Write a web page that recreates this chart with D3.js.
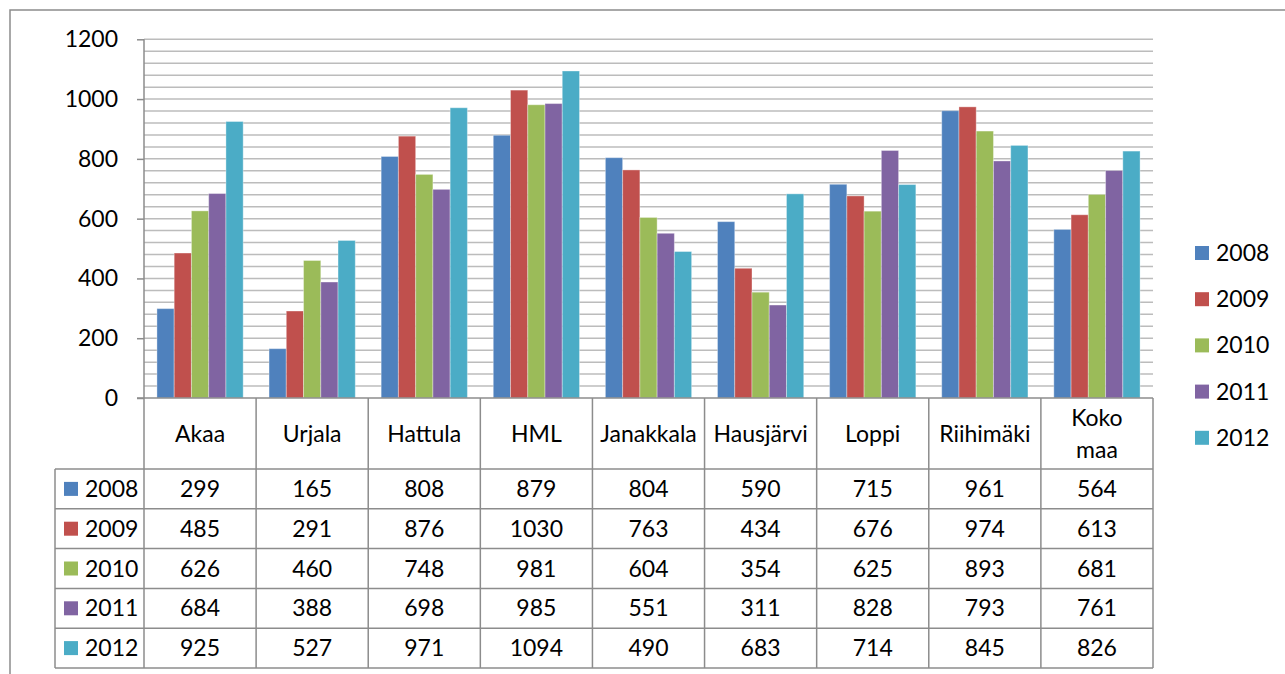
<!DOCTYPE html>
<html>
<head>
<meta charset="utf-8">
<script src="https://cdn.jsdelivr.net/npm/d3@7"></script>
<style>
  body { margin: 0; background: #fff; }
  svg text { font-family: Lato, "Open Sans", sans-serif; fill: #000; }
</style>
</head>
<body>
<div id="chart"></div>
<script>
// data
var categories = ['Akaa', 'Urjala', 'Hattula', 'HML', 'Janakkala', 'Hausjärvi', 'Loppi', 'Riihimäki', 'Koko maa'];
var years = ['2008', '2009', '2010', '2011', '2012'];
var v2008 = [299, 165, 808, 879, 804, 590, 715, 961, 564];
var v2009 = [485, 291, 876, 1030, 763, 434, 676, 974, 613];
var v2010 = [626, 460, 748, 981, 604, 354, 625, 893, 681];
var v2011 = [684, 388, 698, 985, 551, 311, 828, 793, 761];
var v2012 = [925, 527, 971, 1094, 490, 683, 714, 845, 826];
var yTicks = [0, 200, 400, 600, 800, 1000, 1200];

var series = [v2008, v2009, v2010, v2011, v2012];
var colors = ['#4F81BD', '#C0504D', '#9BBB59', '#8064A2', '#4BACC6'];

var W = 1285, H = 674;
var plot = {left: 144, right: 1153, top: 39.3, bottom: 398};
var rowH = 39.8, tableTop = 469, legCol = 55;
var lineCol = '#8c8c8c';
var fs = 23;

var svg = d3.select('#chart').append('svg')
  .attr('width', W).attr('height', H);

// outer frame (only top and left visible)
svg.append('path')
  .attr('d', 'M10,674 V10 H1285')
  .attr('fill', 'none').attr('stroke', lineCol).attr('stroke-width', 1.5);

var x = d3.scaleBand()
  .domain(categories)
  .range([plot.left, plot.right]);

var x1 = d3.scaleBand()
  .domain(years)
  .range([0, x.bandwidth()])
  .paddingInner(0)
  .paddingOuter(0.75);

var y = d3.scaleLinear()
  .domain([0, 1200])
  .range([plot.bottom, plot.top]);

// gridlines every 40
svg.append('g')
  .selectAll('line')
  .data(d3.range(40, 1201, 40))
  .enter().append('line')
    .attr('x1', plot.left).attr('x2', plot.right)
    .attr('y1', function(d) { return y(d); })
    .attr('y2', function(d) { return y(d); })
    .attr('stroke', '#bcbcbc')
    .attr('stroke-width', 1.5);

// bars
var groups = svg.append('g')
  .selectAll('g')
  .data(series)
  .enter().append('g')
    .attr('fill', function(d, i) { return colors[i]; });

groups.each(function(vals, si) {
  d3.select(this).selectAll('rect')
    .data(vals)
    .enter().append('rect')
      .attr('x', function(d, i) { return x(categories[i]) + x1(years[si]); })
      .attr('y', function(d) { return y(d); })
      .attr('width', x1.bandwidth())
      .attr('height', function(d) { return y(0) - y(d); })
      .attr('stroke', 'rgba(255,255,255,0.35)')
      .attr('stroke-width', 1);
});

// y axis
var yAxis = svg.append('g')
  .attr('transform', 'translate(' + plot.left + ',0)')
  .call(d3.axisLeft(y).tickValues(yTicks).tickSize(7).tickPadding(19).tickFormat(d3.format('d')));
yAxis.select('.domain').remove();
yAxis.selectAll('.tick line').attr('stroke', lineCol).attr('stroke-width', 1.5);
yAxis.selectAll('text')
  .attr('font-size', fs)
  .style('font-family', 'Lato, sans-serif');

// axis lines
svg.append('line')
  .attr('x1', plot.left).attr('x2', plot.left)
  .attr('y1', plot.top).attr('y2', tableTop + rowH * 5)
  .attr('stroke', lineCol).attr('stroke-width', 1.5);
svg.append('line')
  .attr('x1', plot.left - 7).attr('x2', plot.right)
  .attr('y1', plot.bottom).attr('y2', plot.bottom)
  .attr('stroke', lineCol).attr('stroke-width', 1.5);

// data table
var table = svg.append('g');
var bounds = categories.map(function(c) { return x(c) + x.bandwidth(); });
table.selectAll('line.v')
  .data(bounds)
  .enter().append('line')
    .attr('class', 'v')
    .attr('x1', function(d) { return d; }).attr('x2', function(d) { return d; })
    .attr('y1', plot.bottom).attr('y2', tableTop + rowH * 5)
    .attr('stroke', lineCol).attr('stroke-width', 1.5);
table.append('line')
  .attr('x1', legCol).attr('x2', legCol)
  .attr('y1', tableTop).attr('y2', tableTop + rowH * 5)
  .attr('stroke', lineCol).attr('stroke-width', 1.5);
table.selectAll('line.h')
  .data(d3.range(6))
  .enter().append('line')
    .attr('class', 'h')
    .attr('x1', legCol).attr('x2', plot.right)
    .attr('y1', function(d) { return tableTop + d * rowH; })
    .attr('y2', function(d) { return tableTop + d * rowH; })
    .attr('stroke', lineCol).attr('stroke-width', 1.5);

// header labels
table.selectAll('text.cat')
  .data(categories)
  .enter().append('text')
    .attr('class', 'cat')
    .attr('font-size', fs)
    .attr('text-anchor', 'middle')
    .each(function(d) {
      var words = d.split(' ');
      var cx = x(d) + x.bandwidth() / 2;
      var mid = (plot.bottom + tableTop) / 2;
      var t = d3.select(this);
      if (words.length > 1) {
        words.forEach(function(w, i) {
          t.append('tspan').attr('x', cx)
            .attr('y', mid + (i - 0.5) * 32)
            .attr('dy', '0.35em').text(w);
        });
      } else {
        t.attr('x', cx).attr('y', mid).attr('dy', '0.35em').text(d);
      }
    });

// rows
series.forEach(function(vals, si) {
  var cy = tableTop + si * rowH + rowH / 2;
  table.append('rect')
    .attr('x', 64).attr('y', cy - 7)
    .attr('width', 14).attr('height', 14)
    .attr('fill', colors[si]);
  table.append('text')
    .attr('x', 85).attr('y', cy).attr('dy', '0.35em')
    .attr('font-size', fs)
    .text(years[si]);
  table.selectAll(null)
    .data(vals)
    .enter().append('text')
      .attr('x', function(d, i) { return x(categories[i]) + x.bandwidth() / 2; })
      .attr('y', cy).attr('dy', '0.35em')
      .attr('text-anchor', 'middle')
      .attr('font-size', fs)
      .text(function(d) { return d; });
});

// legend on the right
var legend = svg.append('g')
  .selectAll('g')
  .data(years)
  .enter().append('g')
    .attr('transform', function(d, i) { return 'translate(1195,' + (253 + i * 46.2) + ')'; });
legend.append('rect')
  .attr('x', 0).attr('y', -7)
  .attr('width', 14).attr('height', 14)
  .attr('fill', function(d, i) { return colors[i]; });
legend.append('text')
  .attr('x', 21).attr('dy', '0.35em')
  .attr('font-size', fs)
  .text(function(d) { return d; });
</script>
</body>
</html>
